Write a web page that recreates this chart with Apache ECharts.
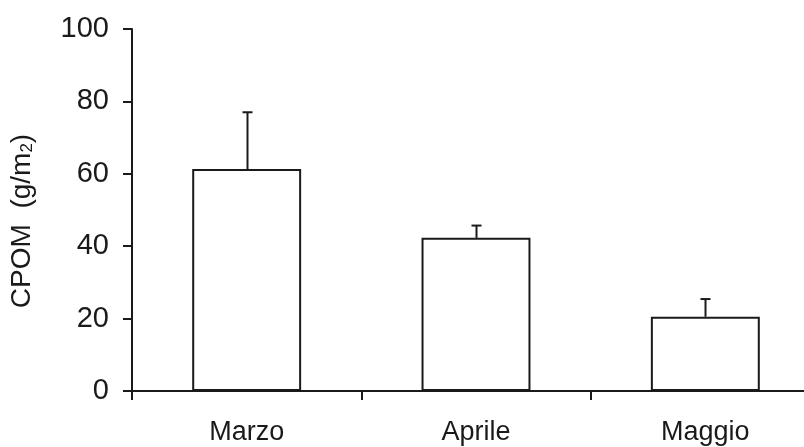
<!DOCTYPE html>
<html>
<head>
<meta charset="utf-8">
<script src="https://cdn.jsdelivr.net/npm/echarts@6/dist/echarts.min.js"></script>
<style>
  html, body { margin: 0; padding: 0; background: #fff; }
  #chart { width: 804px; height: 447px; }
</style>
</head>
<body>
<div id="chart"></div>
<script>
// data
const months = ['Marzo', 'Aprile', 'Maggio'];
const cpomMean = [61.3, 42.3, 20.5];
const cpomErrTop = [77.0, 45.7, 25.4];
const yTicks = [0, 20, 40, 60, 80, 100];

const FONT = 'Liberation Sans, Arial, sans-serif';
const INK = '#1a1a1a';

const chart = echarts.init(document.getElementById('chart'));

const errData = months.map(function (m, i) {
    return [i, cpomMean[i], cpomErrTop[i]];
});

const options = {
    animation: false,
    grid: { left: 132, top: 29, bottom: 56, width: 688, outerBoundsMode: 'none', containLabel: false },
    xAxis: {
        type: 'category',
        data: months,
        boundaryGap: true,
        axisLine: { lineStyle: { color: INK, width: 2 } },
        axisTick: { show: true, length: 9, interval: 0, lineStyle: { color: INK, width: 2 } },
        axisLabel: { color: INK, fontSize: 27, fontFamily: FONT, margin: 28, interval: 0 }
    },
    yAxis: {
        type: 'value',
        min: yTicks[0],
        max: yTicks[yTicks.length - 1],
        interval: 20,
        splitLine: { show: false },
        axisLine: { show: true, lineStyle: { color: INK, width: 2 } },
        axisTick: { show: true, length: 9, lineStyle: { color: INK, width: 2 } },
        axisLabel: { color: INK, fontSize: 29, fontFamily: FONT, margin: 23 },
        name: '{a|CPOM  (g/m}{s|2}{a|)}',
        nameLocation: 'middle',
        nameRotate: 90,
        nameGap: 96,
        nameTextStyle: {
            padding: [0, 22, 0, 0],
            rich: {
                a: { fontSize: 28, fontFamily: FONT, color: INK },
                s: { fontSize: 17, fontFamily: FONT, color: INK, verticalAlign: 'bottom' }
            }
        }
    },
    series: [{
        type: 'bar',
        data: cpomMean,
        barWidth: '47.5%',
        itemStyle: { color: '#fff', borderColor: INK, borderWidth: 2 },
        z: 2
    }, {
        type: 'custom',
        data: errData,
        z: 3,
        renderItem: function (params, api) {
            const base = api.coord([api.value(0), api.value(1)]);
            const top = api.coord([api.value(0), api.value(2)]);
            const x = Math.round(base[0]) + 0.5;
            const style = { stroke: INK, lineWidth: 2 };
            return {
                type: 'group',
                children: [{
                    type: 'line',
                    shape: { x1: x, y1: base[1], x2: x, y2: top[1] },
                    style: style
                }, {
                    type: 'line',
                    shape: { x1: x - 5, y1: top[1], x2: x + 5, y2: top[1] },
                    style: style
                }]
            };
        }
    }]
};

chart.setOption(options);
</script>
</body>
</html>
